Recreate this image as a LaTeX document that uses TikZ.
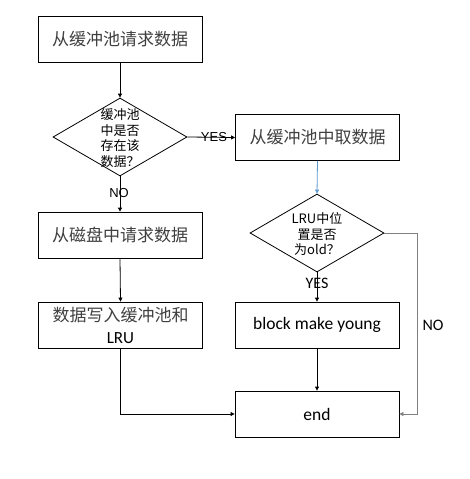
\documentclass[tikz,border=0pt]{standalone}
\usepackage{fontspec}
\setmainfont{Carlito}
\newfontfamily\cjk{Noto Sans CJK SC}
\newfontfamily\arialf{Liberation Sans}
\usetikzlibrary{arrows.meta,shapes.geometric}
\definecolor{txtgray}{HTML}{404040}
\definecolor{linegray}{HTML}{808080}
\definecolor{arrowblue}{HTML}{5B9BD5}
\begin{document}
\begin{tikzpicture}[x=1pt,y=-1pt,
  box/.style={draw, line width=0.8pt, minimum width=164pt, minimum height=46pt, inner sep=0pt, align=center},
  dia/.style={draw, line width=0.8pt, diamond, minimum width=134pt, minimum height=78pt, inner sep=0pt},
  boxtxt/.style={font=\cjk\fontsize{17}{22}\selectfont, text=txtgray},
  latxt/.style={font=\fontsize{17.5}{22}\selectfont},
  diatxt/.style={font=\cjk\fontsize{13}{15.5}\selectfont, align=center, inner sep=0pt},
  conn/.style={line width=0.8pt, -{Triangle[length=4pt,width=4pt]}},
  arlabel/.style={font=\arialf\fontsize{13}{15}\selectfont, inner sep=0pt},
  calabel/.style={font=\fontsize{16}{18}\selectfont, inner sep=0pt}
]
\useasboundingbox (0,0) rectangle (469,479);
\fill[white] (0,0) rectangle (469,479);

\node[box, boxtxt] (b1) at (120,39.5) {从缓冲池请求数据};
\node[dia] (d1) at (120,137) {};
\node[diatxt] (d1t) at (120,138) {缓冲池\\中是否\\存在该\\数据？};
\node[box, boxtxt] (b2) at (317.5,137.5) {从缓冲池中取数据};
\node[dia] (d2) at (317,233) {};
\node[diatxt] (d2t) at (317,234) {LRU中位\\置是否\\为old？};
\node[box, boxtxt] (b3) at (120,235) {从磁盘中请求数据};
\node[box, font=\fontsize{17}{22}\selectfont] (b4) at (120.5,325) {{\cjk\color{txtgray}数据写入缓冲池和}\\LRU};
\node[box, latxt] (b5) at (317,325) {block make young};
\node[box, latxt] (b6) at (317,414) {end};
\coordinate (r) at (417,233);

\draw[conn] (b1.south) -- (d1.north);
\draw[conn] (d1.south) -- (b3.north);
\draw[conn] (d1.east) -- (b2.west);
\draw[conn, arrowblue] (b2.south) -- (d2.north);
\draw[conn] (d2.south) -- (b5.north);
\draw[conn] (b3.south) -- (b4.north);
\draw[conn] (b4.south) |- (b6.west);
\draw[conn] (b5.south) -- (b6.north);
\draw[conn, linegray] (d2.east) -- (r) |- (b6.east);

\node[arlabel] (l1) at (214,137) {YES};
\node[arlabel] (l2) at (119,193) {NO};
\node[calabel] (l3) at (317,283) {YES};
\node[calabel] (l4) at (433,325) {NO};
\end{tikzpicture}
\end{document}
